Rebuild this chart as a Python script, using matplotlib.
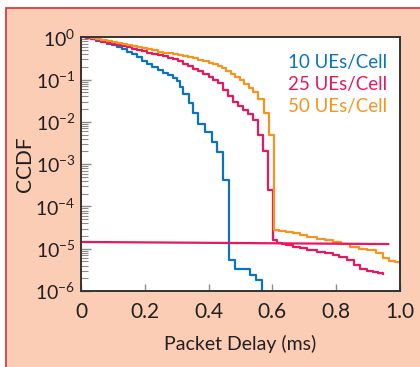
import numpy as np
import matplotlib
matplotlib.use("Agg")
import matplotlib.pyplot as plt
from matplotlib.patches import Rectangle
from matplotlib.ticker import LogLocator, NullFormatter

plt.rcParams['font.family'] = ['Lato', 'DejaVu Sans']
plt.rcParams['mathtext.fontset'] = 'custom'
plt.rcParams['mathtext.rm'] = 'Lato'
plt.rcParams['mathtext.it'] = 'Lato'
plt.rcParams['mathtext.bf'] = 'Lato'

# ---- data (delay in ms, CCDF as log10 exponent) ----
blue_x = [0.016, 0.032, 0.048, 0.064, 0.080, 0.096, 0.112, 0.128, 0.144, 0.160,
          0.176, 0.192, 0.208, 0.224, 0.240, 0.256, 0.272, 0.288, 0.300, 0.310,
          0.320, 0.337, 0.352, 0.368, 0.389, 0.410, 0.425, 0.444, 0.463, 0.483,
          0.530, 0.550, 0.566]
blue_log = [-0.02, -0.05, -0.08, -0.11, -0.15, -0.19, -0.23, -0.28, -0.34, -0.40,
            -0.47, -0.55, -0.63, -0.70, -0.77, -0.84, -0.90, -0.96, -1.03, -1.17,
            -1.33, -1.56, -1.79, -2.05, -2.23, -2.47, -2.71, -3.38, -5.27, -5.47,
            -5.63, -5.74, -6.40]

red_x = [0.016, 0.032, 0.048, 0.064, 0.080, 0.096, 0.112, 0.128, 0.144, 0.160,
         0.176, 0.192, 0.208, 0.224, 0.240, 0.256, 0.272, 0.288, 0.304, 0.320,
         0.336, 0.352, 0.368, 0.384, 0.400, 0.414, 0.430, 0.445, 0.460, 0.476,
         0.492, 0.508, 0.522, 0.538, 0.555, 0.571, 0.587, 0.603, 0.613, 0.630,
         0.644, 0.665, 0.687, 0.710, 0.739, 0.765, 0.790, 0.810, 0.833, 0.855,
         0.875, 0.895, 0.916, 0.930, 0.947]
red_log = [-0.02, -0.04, -0.07, -0.10, -0.13, -0.16, -0.19, -0.21, -0.24, -0.27,
           -0.30, -0.33, -0.36, -0.39, -0.42, -0.45, -0.48, -0.52, -0.56, -0.62,
           -0.68, -0.74, -0.80, -0.86, -0.93, -1.00, -1.08, -1.25, -1.38, -1.52,
           -1.62, -1.72, -1.82, -1.96, -2.30, -2.70, -3.61, -4.80, -4.86, -4.90,
           -4.92, -4.96, -4.99, -5.03, -5.07, -5.11, -5.15, -5.20, -5.27, -5.38,
           -5.49, -5.52, -5.55, -5.58, -5.60]

orange_x = [0.016, 0.032, 0.048, 0.064, 0.080, 0.096, 0.112, 0.128, 0.144, 0.160,
            0.176, 0.192, 0.208, 0.224, 0.240, 0.256, 0.272, 0.288, 0.304, 0.320,
            0.336, 0.352, 0.368, 0.384, 0.400, 0.414, 0.428, 0.442, 0.456, 0.470,
            0.484, 0.498, 0.512, 0.526, 0.540, 0.556, 0.574, 0.590, 0.605, 0.620,
            0.644, 0.665, 0.687, 0.710, 0.739, 0.765, 0.790, 0.815, 0.843, 0.870,
            0.895, 0.926, 0.947, 0.967, 0.985, 1.000]
orange_log = [0.0, -0.02, -0.04, -0.06, -0.08, -0.11, -0.13, -0.16, -0.18, -0.20,
              -0.23, -0.25, -0.28, -0.31, -0.34, -0.36, -0.38, -0.40, -0.42, -0.44,
              -0.47, -0.50, -0.53, -0.56, -0.60, -0.64, -0.68, -0.73, -0.79, -0.86,
              -0.93, -1.01, -1.10, -1.19, -1.29, -1.45, -1.80, -2.30, -4.56, -4.58,
              -4.60, -4.64, -4.68, -4.72, -4.76, -4.80, -4.84, -4.90, -4.96, -5.00,
              -5.03, -5.11, -5.23, -5.29, -5.32, -5.35]

flat_x = [0.0, 0.963]
flat_log = [-4.84, -4.89]

labels = ['10 UEs/Cell', '25 UEs/Cell', '50 UEs/Cell']
colors = ['#0A74BE', '#E8185C', '#F7941D']
xticks = [0, 0.2, 0.4, 0.6, 0.8, 1.0]
xticklabels = ['0', '0.2', '0.4', '0.6', '0.8', '1.0']

W, H = 420, 367
fig = plt.figure(figsize=(W / 100, H / 100), dpi=100)
fig.patch.set_facecolor('white')
panel = Rectangle((6 / W, -0.1), 1.2, 1.1 - 8 / H, transform=fig.transFigure,
                  facecolor='#FBCDB5', edgecolor='#E23A44', lw=1.3, zorder=-10)
fig.patches.append(panel)

ax = fig.add_axes([81 / W, 1 - 291 / H, (400 - 81) / W, (291 - 37.3) / H])
ax.set_facecolor('white')

lw = 1.6
ax.plot(blue_x, 10.0 ** np.array(blue_log), drawstyle='steps-post', color=colors[0], lw=lw)
ax.plot(red_x, 10.0 ** np.array(red_log), drawstyle='steps-post', color=colors[1], lw=lw)
ax.plot(orange_x, 10.0 ** np.array(orange_log), drawstyle='steps-post', color=colors[2], lw=lw)
ax.plot(flat_x, 10.0 ** np.array(flat_log), color=colors[1], lw=lw)

ax.set_yscale('log')
ax.set_xlim(0, 1.0)
ax.set_ylim(1e-6, 1.0)
ax.yaxis.set_major_locator(LogLocator(base=10, numticks=10))
ax.yaxis.set_minor_locator(LogLocator(base=10, subs=np.arange(2, 10), numticks=20))
ax.yaxis.set_minor_formatter(NullFormatter())
ax.set_xticks(xticks)
ax.set_xticklabels(xticklabels)

tc = '#231F20'
ax.tick_params(axis='both', which='both', direction='in', color='#8C8C8C',
               labelcolor=tc)
ax.tick_params(axis='x', which='major', length=5, width=1, pad=8, labelsize=15)
ax.tick_params(axis='y', which='major', length=7, width=1, pad=4, labelsize=14)
ax.tick_params(axis='y', which='minor', length=5, width=0.8)
for s in ax.spines.values():
    s.set_color('#333333')
    s.set_linewidth(1.4)

ax.set_xlabel('Packet Delay (ms)', fontsize=14, color=tc, labelpad=9)
ax.set_ylabel('CCDF', fontsize=15, color=tc, labelpad=0)

for i, (lab, c) in enumerate(zip(labels, colors)):
    ax.text(0.96, 0.9 - i * 0.087, lab, transform=ax.transAxes, ha='right', va='center',
            color=c, fontsize=13.5)

fig.savefig('out.png', dpi=100, facecolor=fig.get_facecolor())
